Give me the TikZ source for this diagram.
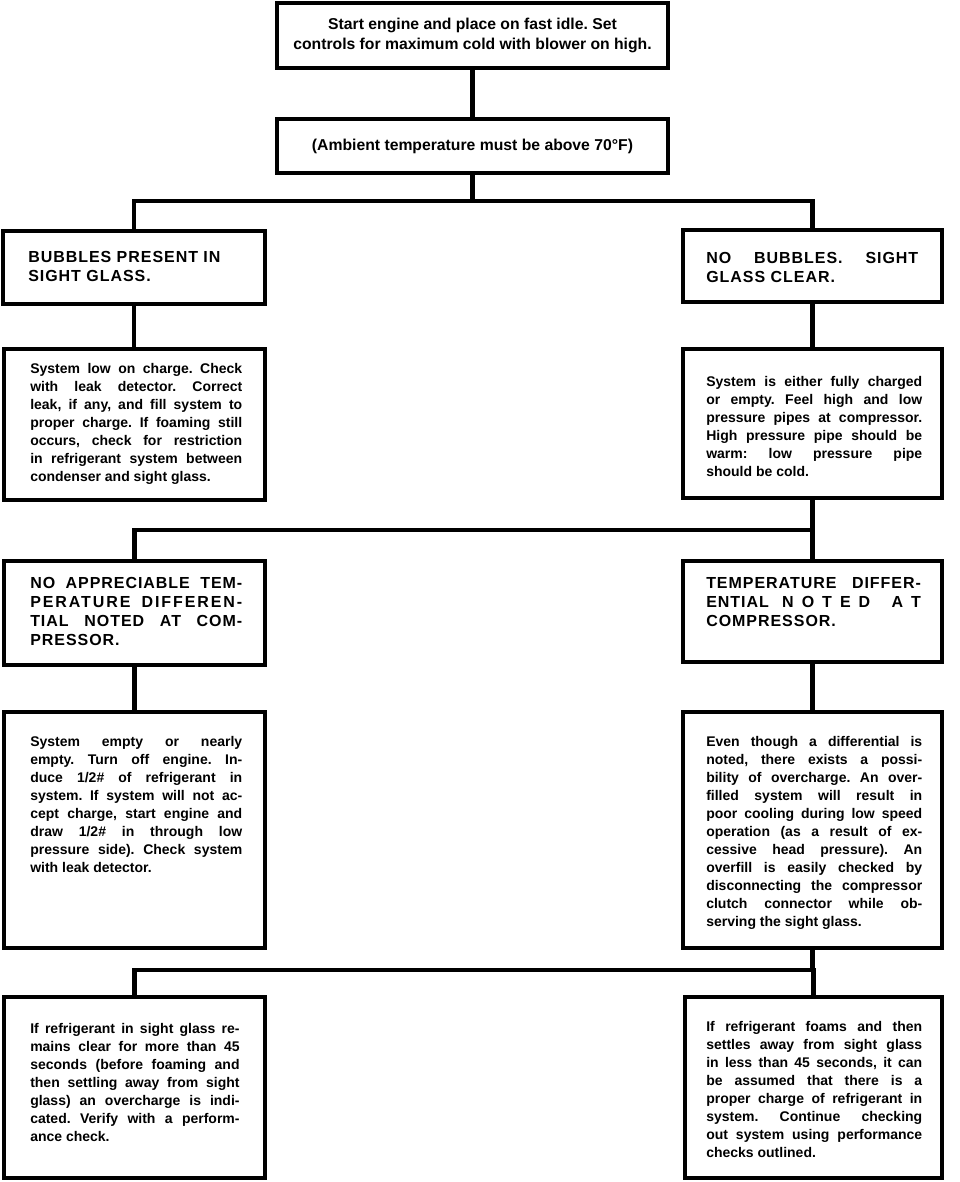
\documentclass[tikz,border=0pt]{standalone}
\usepackage{fontspec}
\setmainfont{Liberation Sans}
\newfontfamily\hdfont[LetterSpace=6]{Liberation Sans}
\usetikzlibrary{fit}
\setlength{\parindent}{0pt}
\frenchspacing
\begin{document}
\begin{tikzpicture}[x=0.75pt,y=-0.75pt,
  box/.style={draw=black, line width=2.6pt, inner sep=0pt, fill=white},
  conn/.style={draw=black, line width=3.6pt, line join=miter},
  body/.style={anchor=north west, inner sep=0pt, text width=#1, align=justify,
    font=\fontsize{10.5}{13.5}\selectfont\bfseries\frenchspacing},
  body/.default=159pt,
  head/.style={anchor=north west, inner sep=0pt, text width=#1, align=justify,
    font=\hdfont\fontsize{12}{14.25}\selectfont\bfseries\frenchspacing},
  head/.default=159pt,
  ctext/.style={inner sep=0pt, align=center,
    font=\fontsize{11.8}{15}\selectfont\bfseries\frenchspacing}
]
\useasboundingbox (0,0) rectangle (960,1182);
\fill[white] (0,0) rectangle (960,1182);

% boxes
\node[box, fit={(277,3) (668,68)}] (A) {};
\node[box, fit={(277,119) (668,173)}] (B) {};
\node[box, fit={(3,231) (265,304)}] (L1) {};
\node[box, fit={(683,230) (942,302)}] (R1) {};
\node[box, fit={(4,349) (265,500)}] (L2) {};
\node[box, fit={(683,349) (942,498)}] (R2) {};
\node[box, fit={(4,561) (265,665)}] (L3) {};
\node[box, fit={(683,561) (942,662)}] (R3) {};
\node[box, fit={(4,712) (265,948)}] (L4) {};
\node[box, fit={(683,712) (942,948)}] (R4) {};
\node[box, fit={(4,997) (265,1178)}] (L5) {};
\node[box, fit={(685,997) (942,1178)}] (R5) {};

% junctions
\coordinate (j1) at (472.5,201);
\coordinate (j2) at (812.5,530);
\coordinate (j3) at (812.5,970);

% connectors
\draw[conn] (A.south) -- (B.north);
\draw[conn] (B.south) -- (j1);
\draw[conn] (L1.north) -- (L1.north |- j1) -- (R1.north |- j1) -- (R1.north);
\draw[conn] (L1.south) -- (L1.south |- L2.north);
\draw[conn] (R1.south) -- (R1.south |- R2.north);
\draw[conn] (R2.south) -- (j2);
\draw[conn] (L3.north) -- (L3.north |- j2) -- (R3.north |- j2) -- (R3.north);
\draw[conn] (L3.south) -- (L3.south |- L4.north);
\draw[conn] (R3.south) -- (R3.south |- R4.north);
\draw[conn] (R4.south) -- (j3);
\draw[conn] (L5.north) -- (L5.north |- j3) -- (R5.north |- j3) -- (R5.north);

% texts
\node[ctext] (tA) at (A.center) {Start engine and place on fast idle. Set\\controls for maximum cold with blower on high.};
\node[ctext] (tB) at (B.center) {(Ambient temperature must be above 70°F)};

\node[head] (tL1) at (28,251) {BUBBLES PRESENT IN\\SIGHT GLASS.};
\node[head] (tR1) at (706,252) {NO BUBBLES. SIGHT\linebreak GLASS CLEAR.};

\node[body] (tL2) at (30,363) {System low on charge. Check\linebreak
with leak detector. Correct\linebreak
leak, if any, and fill system to\linebreak
proper charge. If foaming still\linebreak
occurs, check for restriction\linebreak
in refrigerant system between\linebreak
condenser and sight glass.};

\node[body=162pt] (tR2) at (706,376) {System is either fully charged\linebreak
or empty. Feel high and low\linebreak
pressure pipes at compressor.\linebreak
High pressure pipe should be\linebreak
warm: low pressure pipe\linebreak
should be cold.};

\node[head] (tL3) at (30,577) {NO APPRECIABLE TEM-\linebreak
{\addfontfeature{LetterSpace=12}PERATURE DIFFEREN-}\linebreak
TIAL NOTED AT COM-\linebreak
PRESSOR.};

\node[head=161pt] (tR3) at (706,577) {TEMPERATURE DIFFER-\linebreak
ENTIAL \hfill N\hfill O\hfill T\hfill E\hfill D \hfill\hfill A\hfill T\linebreak
COMPRESSOR.};

\node[body] (tL4) at (30,736) {System empty or nearly\linebreak
empty. Turn off engine. In-\linebreak
duce 1/2\# of refrigerant in\linebreak
system. If system will not ac-\linebreak
cept charge, start engine and\linebreak
draw 1/2\# in through low\linebreak
pressure side). Check system\linebreak
with leak detector.};

\node[body=162pt] (tR4) at (706,736) {Even though a differential is\linebreak
noted, there exists a possi-\linebreak
bility of overcharge. An over-\linebreak
filled system will result in\linebreak
poor cooling during low speed\linebreak
operation (as a result of ex-\linebreak
cessive head pressure). An\linebreak
overfill is easily checked by\linebreak
disconnecting the compressor\linebreak
clutch connector while ob-\linebreak
serving the sight glass.};

\node[body=157pt] (tL5) at (30,1023) {If refrigerant in sight glass re-\linebreak
mains clear for more than 45\linebreak
seconds (before foaming and\linebreak
then settling away from sight\linebreak
glass) an overcharge is indi-\linebreak
cated. Verify with a perform-\linebreak
ance check.};

\node[body=162pt] (tR5) at (706,1021) {If refrigerant foams and then\linebreak
settles away from sight glass\linebreak
in less than 45 seconds, it can\linebreak
be assumed that there is a\linebreak
proper charge of refrigerant in\linebreak
system. Continue checking\linebreak
out system using performance\linebreak
checks outlined.};
\end{tikzpicture}
\end{document}
